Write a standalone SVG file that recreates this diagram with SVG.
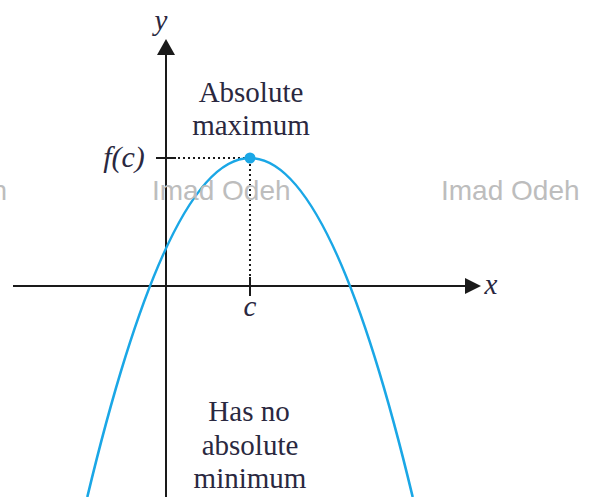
<svg xmlns="http://www.w3.org/2000/svg" width="590" height="497" viewBox="0 0 590 497">
<defs>
<style>
.lbl{font-family:"Liberation Serif","Times New Roman",serif;font-size:29px;fill:#2a2840;text-anchor:middle}
.it{font-style:italic}
.ax{stroke:#1a1a1a;stroke-width:2;fill:none}
.dot{stroke:#1a1a1a;stroke-width:2;stroke-dasharray:2 3;fill:none}
.wm{font-family:"Liberation Sans",Arial,sans-serif;font-size:28px;fill:#bdbdbd}
</style>
</defs>
<rect width="590" height="497" fill="#fff"/>
<g id="connectors">
<line class="ax" x1="13" y1="286" x2="468" y2="286"/>
<polygon points="481,286 465,278 465,294" fill="#1a1a1a"/>
<line class="ax" x1="166" y1="497" x2="166" y2="52"/>
<polygon points="166,39 157,55 175,55" fill="#1a1a1a"/>
<line class="ax" x1="156" y1="158" x2="176" y2="158"/>
<line class="ax" x1="250" y1="277" x2="250" y2="296"/>
<line class="dot" x1="178" y1="158" x2="246" y2="158"/>
<line class="dot" x1="250" y1="164" x2="250" y2="276"/>
</g>
<g id="curve">
<path d="M87.3,497 Q250,-181 412.7,497" fill="none" stroke="#1aa7e6" stroke-width="2.6"/>
<circle cx="250" cy="158" r="5.5" fill="#1aa7e6"/>
</g>
<g id="labels">
<text class="lbl it" x="161" y="30">y</text>
<text class="lbl it" x="491" y="294">x</text>
<text class="lbl it" x="250" y="316">c</text>
<text class="lbl it" x="124" y="167" style="font-size:30px">f(c)</text>
<text class="lbl" x="251" y="102">Absolute</text>
<text class="lbl" x="251" y="135">maximum</text>
<text class="lbl" x="249" y="421">Has no</text>
<text class="lbl" x="250" y="455">absolute</text>
<text class="lbl" x="250" y="488">minimum</text>
</g>
<g id="watermark">
<text class="wm" x="7" y="200" text-anchor="end">Imad Odeh</text>
<text class="wm" x="152" y="200">Imad Odeh</text>
<text class="wm" x="441" y="200">Imad Odeh</text>
</g>
</svg>
